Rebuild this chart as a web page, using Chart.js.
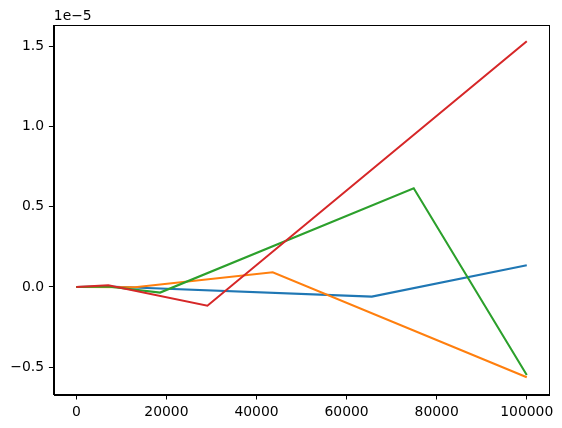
<!DOCTYPE html>
<html>
<head>
<meta charset="utf-8">
<script src="https://cdn.jsdelivr.net/npm/chart.js@4"></script>
<style>
  html, body { margin: 0; padding: 0; background: #fff; }
  #wrap { width: 562px; height: 428px; }
</style>
</head>
<body>
<div id="wrap"><canvas id="chart" width="562" height="428"></canvas></div>
<script>
// values in units of 1e-5
const blueX = [0, 7000, 65600, 100000]
const blueY = [0, 0.003, -0.06, 0.135]

const orangeX = [0, 13000, 43600, 100000]
const orangeY = [0, -0.002, 0.092, -0.563]

const greenX = [0, 7000, 18600, 74900, 100000]
const greenY = [0, 0.003, -0.035, 0.615, -0.549]

const redX = [0, 7100, 29100, 100000]
const redY = [0, 0.011, -0.117, 1.532]

const xTicks = [0, 20000, 40000, 60000, 80000, 100000]
const yTicks = [-0.5, 0.0, 0.5, 1.0, 1.5]
const offsetText = '1e\u22125'

const font = { family: 'DejaVu Sans', size: 13.9 }

function pts(xs, ys) {
    return xs.map((x, i) => ({ x: x, y: ys[i] }))
}

function serie(label, xs, ys, color, order) {
    return {
        label: label,
        data: pts(xs, ys),
        borderColor: color,
        backgroundColor: color,
        borderWidth: 2.08,
        pointRadius: 0,
        tension: 0,
        order: order
    }
}

// marco completo y el texto 1e-5
const framePlugin = {
    id: 'frame',
    afterDraw(chart) {
        const ctx = chart.ctx
        const a = chart.chartArea
        ctx.save()
        ctx.strokeStyle = '#000'
        ctx.lineWidth = 1
        ctx.strokeRect(Math.round(a.left) + 0.5, Math.round(a.top) + 0.5,
            Math.round(a.right - a.left), Math.round(a.bottom - a.top))
        ctx.fillStyle = '#000'
        ctx.font = font.size + 'px ' + font.family
        ctx.textAlign = 'left'
        ctx.textBaseline = 'bottom'
        ctx.fillText(offsetText, a.left, a.top - 2)
        ctx.restore()
    }
}

new Chart(document.getElementById('chart'), {
    type: 'line',
    data: {
        datasets: [
            serie('a', blueX, blueY, '#1f77b4', 3),
            serie('b', orangeX, orangeY, '#ff7f0e', 2),
            serie('c', greenX, greenY, '#2ca02c', 1),
            serie('d', redX, redY, '#d62728', 0)
        ]
    },
    options: {
        responsive: false,
        animation: false,
        layout: { padding: { top: 25, right: 12.7, left: 0, bottom: 0 } },
        plugins: {
            legend: { display: false },
            tooltip: { enabled: false }
        },
        scales: {
            x: {
                type: 'linear',
                min: -5000,
                max: 105000,
                afterBuildTicks: s => { s.ticks = xTicks.map(v => ({ value: v })) },
                afterFit: s => { s.height = 33.4 },
                grid: { drawOnChartArea: false, drawTicks: true, tickLength: 4.9, color: '#000' },
                border: { display: true, color: '#000' },
                ticks: {
                    color: '#000',
                    font: font,
                    padding: 4.9,
                    maxRotation: 0,
                    callback: v => String(v)
                }
            },
            y: {
                type: 'linear',
                min: -0.671,
                max: 1.633,
                afterBuildTicks: s => { s.ticks = yTicks.map(v => ({ value: v })) },
                afterFit: s => { s.width = 53.8 },
                grid: { drawOnChartArea: false, drawTicks: true, tickLength: 4.9, color: '#000' },
                border: { display: true, color: '#000' },
                ticks: {
                    color: '#000',
                    font: font,
                    padding: 4.9,
                    callback: v => v.toFixed(1).replace('-', '\u2212')
                }
            }
        }
    },
    plugins: [framePlugin]
})
</script>
</body>
</html>
